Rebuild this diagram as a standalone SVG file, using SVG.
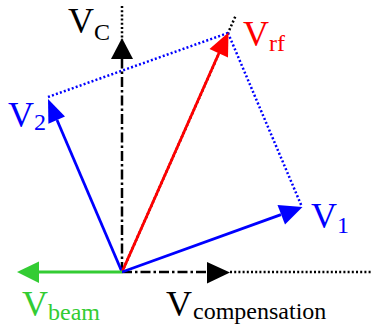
<svg xmlns="http://www.w3.org/2000/svg" width="371" height="329" viewBox="0 0 371 329">
<style>
.dot{fill:none;stroke-width:2.5;stroke-dasharray:2 2.2}
.dd{fill:none;stroke:#000;stroke-width:2.5;stroke-dasharray:10 3 2.5 3}
.sol{fill:none;stroke-width:2.8}
text{font-family:"Liberation Serif","Times New Roman",serif;font-size:36px}
.sub{font-size:24px}
</style>
<rect width="371" height="329" fill="#fff"/>
<g id="connectors">
  <line class="dot" x1="122" y1="6" x2="122" y2="40" stroke="#000"/>
  <line class="dot" x1="122" y1="272" x2="236" y2="15" stroke="#000"/>
  <line class="dot" x1="230" y1="272" x2="371" y2="272" stroke="#000"/>
  <line class="dot" x1="48" y1="97" x2="228" y2="33" stroke="#0000ff"/>
  <line class="dot" x1="228" y1="33" x2="302" y2="207" stroke="#0000ff"/>
  <line class="dd" x1="122" y1="272" x2="122" y2="58"/>
  <line class="dd" x1="122" y1="272" x2="208" y2="272"/>
</g>
<g id="Vc">
  <polygon points="122,38 133,59 111,59" fill="#000"/>
  <text x="68" y="33">V<tspan class="sub" dy="7">C</tspan></text>
</g>
<g id="V2">
  <line class="sol" x1="122" y1="272" x2="57" y2="120" stroke="#0000ff"/>
  <polygon points="48,99 65,116.6 48.4,123.8" fill="#0000ff"/>
  <text x="8" y="127" fill="#0000ff">V<tspan class="sub" dy="3">2</tspan></text>
</g>
<g id="Vrf">
  <line class="sol" x1="122" y1="272" x2="219" y2="53" stroke="#ff0000"/>
  <polygon points="228.5,32.5 228,57.5 209.5,49" fill="#ff0000"/>
  <text x="243" y="46" fill="#ff0000">V<tspan class="sub" dy="5">rf</tspan></text>
</g>
<g id="V1">
  <line class="sol" x1="122" y1="272" x2="281" y2="214.6" stroke="#0000ff"/>
  <polygon points="302.5,207 285,224.5 277.5,205" fill="#0000ff"/>
  <text x="311" y="228" fill="#0000ff">V<tspan class="sub" dy="5">1</tspan></text>
</g>
<g id="Vbeam">
  <line class="sol" x1="122" y1="272" x2="38" y2="272" stroke="#33cc33"/>
  <polygon points="17,272 39,261.5 39,283" fill="#33cc33"/>
  <text x="22" y="316" fill="#33cc33">V<tspan class="sub" dy="4">beam</tspan></text>
</g>
<g id="Vcomp">
  <polygon points="230,272.5 207,262 207,283.5" fill="#000"/>
  <text x="166" y="316">V<tspan class="sub" dx="1" dy="3">compensation</tspan></text>
</g>
</svg>
